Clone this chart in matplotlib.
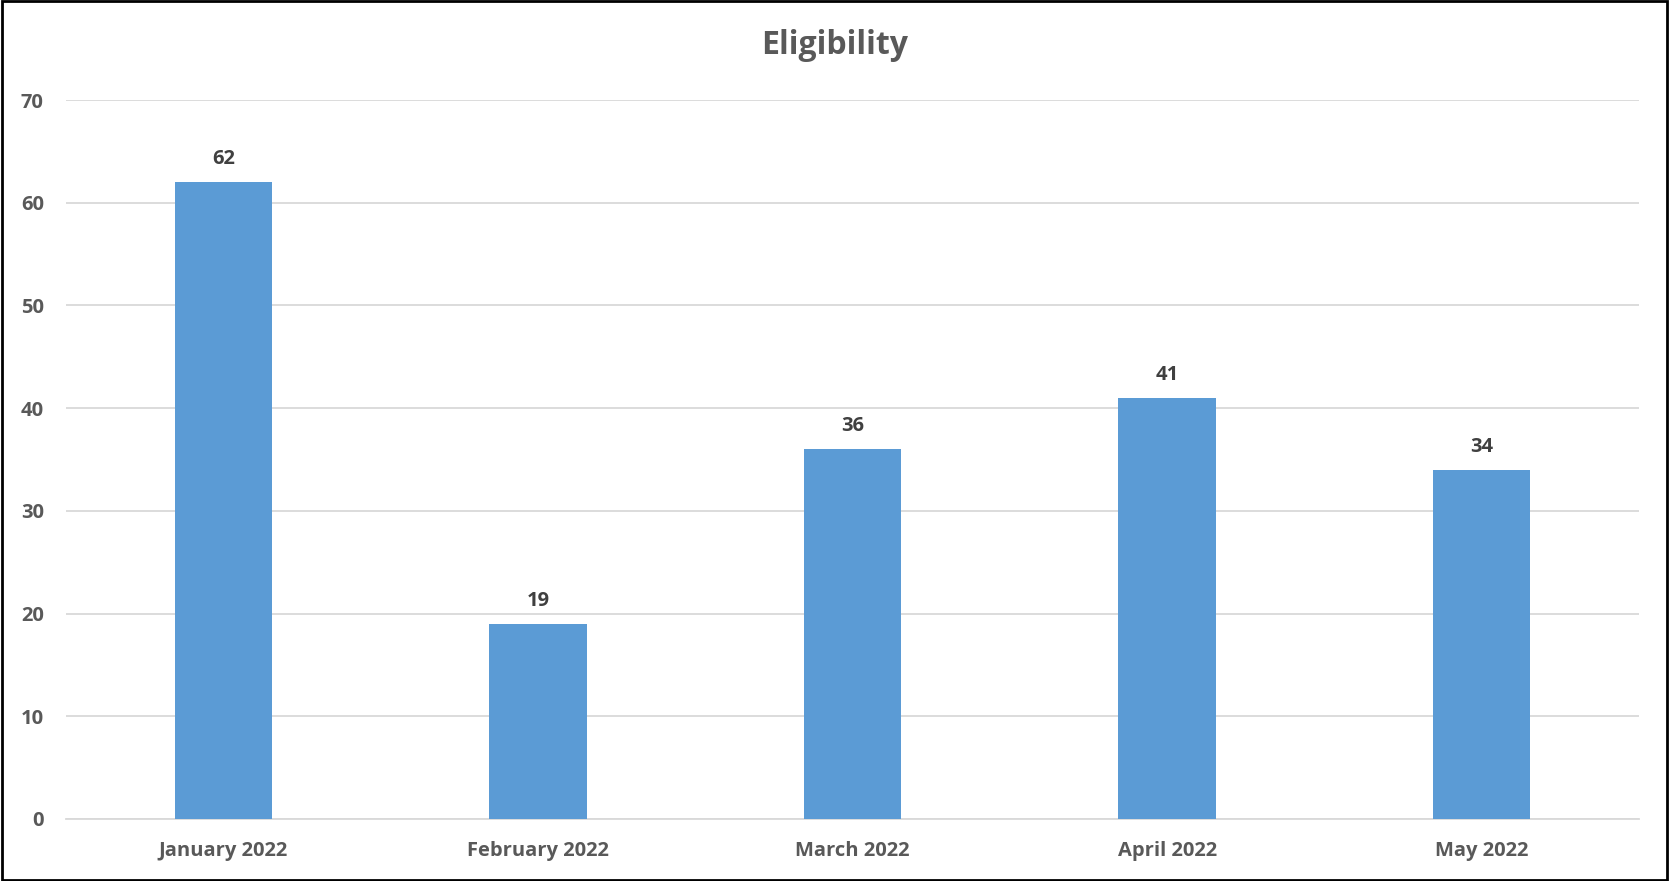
import matplotlib
matplotlib.use("Agg")
import matplotlib.pyplot as plt
from matplotlib.patches import Rectangle

categories = ["January 2022", "February 2022", "March 2022", "April 2022", "May 2022"]
values = [62, 19, 36, 41, 34]
yticks = [0, 10, 20, 30, 40, 50, 60, 70]
title = "Eligibility"

plt.rcParams['font.family'] = ['Open Sans', 'DejaVu Sans']

fig = plt.figure(figsize=(16.69, 8.81), dpi=100)
ax = fig.add_axes([66/1669, 1-819/881, (1639-66)/1669, (819-100)/881])

x = list(range(len(categories)))
ax.bar(x, values, width=0.31, color="#5B9BD5", zorder=3)
for xi, v in zip(x, values):
    ax.annotate(str(v), (xi, v), xytext=(0, 9.5), textcoords="offset points",
                ha="center", va="bottom", fontsize=14.5, fontweight="bold", color="#404040")

ax.set_xlim(-0.5, len(categories) - 0.5)
ax.set_ylim(0, 70)
ax.set_yticks(yticks)
ax.set_xticks(x)
ax.set_xticklabels(categories)
ax.grid(axis="y", color="#D9D9D9", linewidth=1.3, zorder=0)
for s in ["top", "right", "left"]:
    ax.spines[s].set_visible(False)
ax.spines["bottom"].set_color("#D9D9D9")
ax.spines["bottom"].set_linewidth(1.3)
ax.tick_params(axis="both", length=0, labelsize=14.5, labelcolor="#595959")
ax.tick_params(axis="y", pad=16)
ax.tick_params(axis="x", pad=16)
for lab in ax.get_xticklabels() + ax.get_yticklabels():
    lab.set_fontweight("bold")

fig.text(0.5, 1 - 46/881, title, ha="center", va="center", fontsize=23,
         fontweight="bold", color="#595959")

fig.patches.append(Rectangle((0.001, 0.0015), 0.998, 0.997, transform=fig.transFigure,
                             fill=False, edgecolor="black", linewidth=2))

fig.savefig("out.png", dpi=100)
